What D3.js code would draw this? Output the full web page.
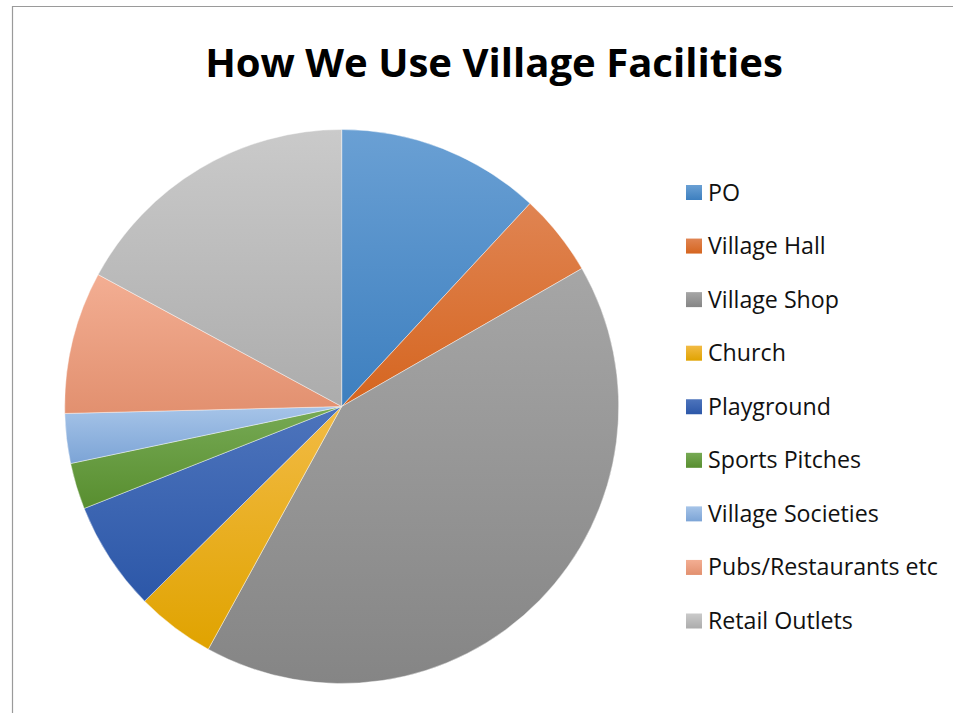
<!DOCTYPE html>
<html><head><meta charset="utf-8">
<script src="https://cdn.jsdelivr.net/npm/d3@7"></script>
<style>html,body{margin:0;padding:0;background:#fff;overflow:hidden}</style>
</head><body>
<svg id="chart" width="953" height="713"></svg>
<script>
const categories = ["PO","Village Hall","Village Shop","Church","Playground","Sports Pitches","Village Societies","Pubs/Restaurants etc","Retail Outlets"];
const values = [11.9, 4.8, 41.3, 4.6, 6.4, 2.7, 2.9, 8.3, 17.1];
const topColors = ["#6aa0d4","#e08452","#a6a6a6","#f2bb45","#4d74bc","#77aa55","#a6c4e8","#f3ae93","#cacaca"];
const bottomColors = ["#3d7fbf","#d5651f","#858585","#e0a300","#2c57a8","#588e2f","#7ca4d6","#e2906f","#acacac"];
const title = "How We Use Village Facilities";

const svg = d3.select("#chart");
// chart area border
svg.append("path").attr("d","M12.5,713 V6.5 H953").attr("fill","none").attr("stroke","#9a9a9a").attr("stroke-width",1.2);

const t = svg.append("text").attr("x",494).attr("y",77).attr("text-anchor","middle")
  .attr("font-family","'Open Sans', sans-serif").attr("font-weight","bold").attr("font-size",40)
  .attr("fill","#000").text(title);
const tw = t.node().getComputedTextLength();
t.attr("font-size", 40*578/tw);

const cx = 341.7, cy = 406.5, r = 277;
const pie = d3.pie().sort(null).value(d=>d);
const arc = d3.arc().innerRadius(0).outerRadius(r);
const defs = svg.append("defs");
const arcs = pie(values);
arcs.forEach((a,i)=>{
  const g = defs.append("linearGradient").attr("id","g"+i).attr("x1",0).attr("y1",0).attr("x2",0).attr("y2",1);
  g.append("stop").attr("offset","0%").attr("stop-color",topColors[i]);
  g.append("stop").attr("offset","100%").attr("stop-color",bottomColors[i]);
});
svg.append("g").attr("transform",`translate(${cx},${cy})`)
  .selectAll("path").data(arcs).join("path")
  .attr("d",arc).attr("fill",(d,i)=>`url(#g${i})`)
  .attr("stroke","#ffffff").attr("stroke-width",0.6).attr("stroke-opacity",0.7);

const legend = svg.append("g");
const ly = d3.scalePoint().domain(categories).range([192.5, 621]);
const items = legend.selectAll("g").data(categories).join("g")
  .attr("transform",d=>`translate(0,${ly(d)})`);
items.append("rect").attr("x",686).attr("y",-7.5).attr("width",16).attr("height",15)
  .attr("fill",(d,i)=>`url(#g${i})`);
const texts = items.append("text").attr("x",708).attr("y",8)
  .attr("font-family","'Open Sans', sans-serif").attr("font-size",20).attr("fill","#111").text(d=>d);
const pw = texts.filter(d=>d==="Pubs/Restaurants etc").node().getComputedTextLength();
texts.attr("font-size", 20*230/pw);
</script>
</body></html>
